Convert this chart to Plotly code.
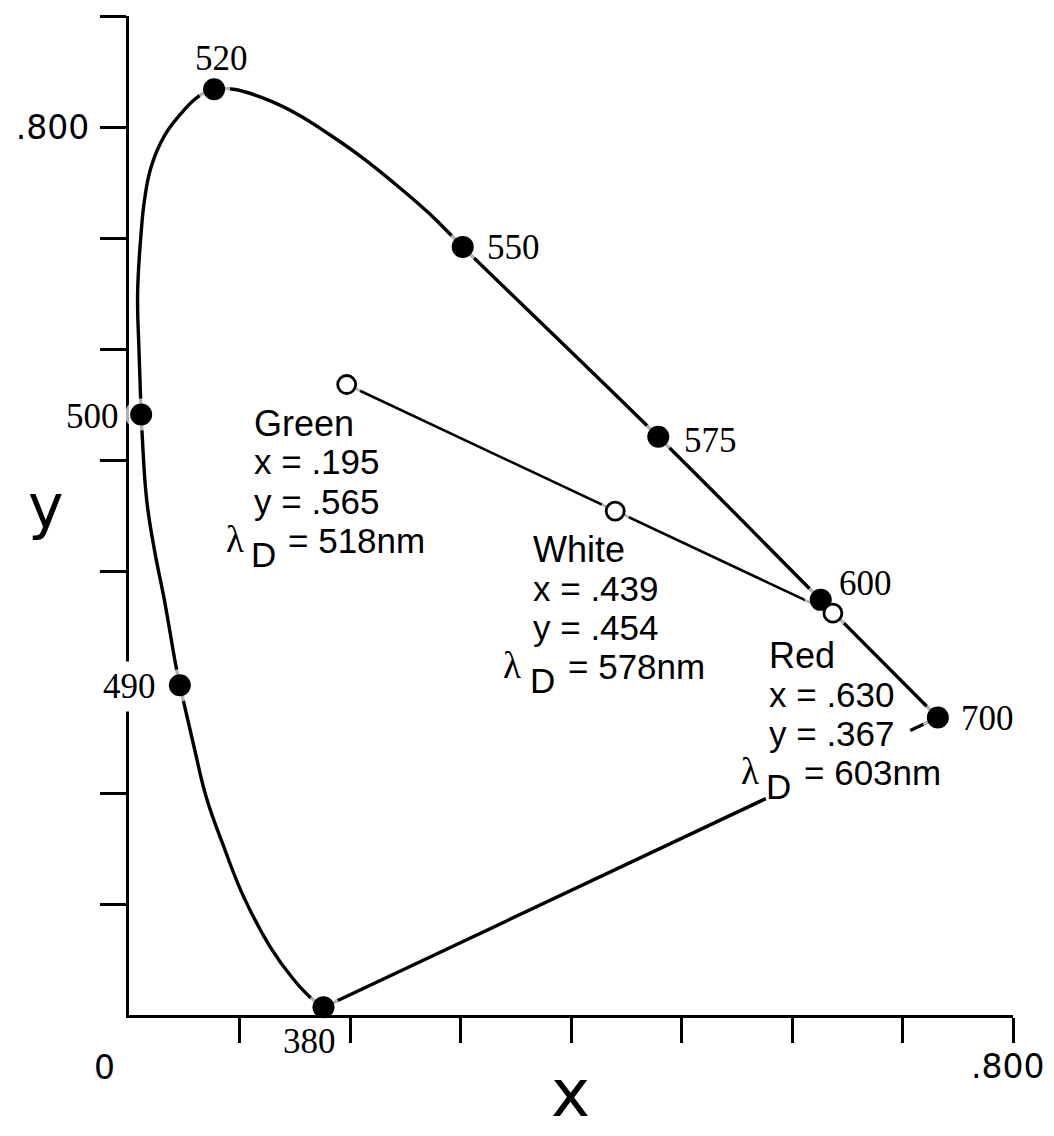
import plotly.graph_objects as go

# ---------------- data ----------------
# spectral locus, from 380 nm round to 700 nm
locus_x = [0.176, 0.164, 0.149, 0.128, 0.104, 0.086, 0.070, 0.059, 0.049, 0.046,
           0.042, 0.032, 0.023, 0.016, 0.012, 0.011, 0.009, 0.0078, 0.011, 0.014,
           0.020, 0.032, 0.047, 0.062, 0.077, 0.0946, 0.1216, 0.1516, 0.1817, 0.2117,
           0.2417, 0.2718, 0.302, 0.479, 0.626, 0.732]
locus_y = [0.007, 0.016, 0.032, 0.061, 0.106, 0.151, 0.196, 0.241, 0.284, 0.297,
           0.317, 0.374, 0.419, 0.464, 0.521, 0.541, 0.600, 0.650, 0.705, 0.734,
           0.764, 0.792, 0.812, 0.827, 0.834, 0.834, 0.826, 0.812, 0.793, 0.772,
           0.748, 0.722, 0.692, 0.521, 0.374, 0.268]

# marked wavelengths on the locus
wl_labels = ["380", "490", "500", "520", "550", "575", "600", "700"]
wl_x = [0.176, 0.046, 0.011, 0.077, 0.302, 0.479, 0.626, 0.732]
wl_y = [0.007, 0.297, 0.541, 0.834, 0.692, 0.521, 0.374, 0.268]

# the three measured colours
sample_names = ["Green", "White", "Red"]
sample_x = [0.197, 0.440, 0.637]
sample_y = [0.568, 0.454, 0.362]
sample_x_text = [".195", ".439", ".630"]
sample_y_text = [".565", ".454", ".367"]
sample_lambda = ["518nm", "578nm", "603nm"]

# axis ticks
x_ticks = [0.1, 0.2, 0.3, 0.4, 0.5, 0.6, 0.7, 0.8]
y_ticks = [0.1, 0.2, 0.3, 0.4, 0.5, 0.6, 0.7, 0.8, 0.9]
y_tick_text = ["", "", "", "", "", "", "", ".800", ""]
x_end_labels = ["0", ".800"]

# ---------------- styling ----------------
W, H = 1054, 1136
BODY = 8                      # default page margin of the html body
SCALE = 1110.0                # pixels per unit
X0, X1, Y0, Y1 = 0.0, 0.8, 0.0, 0.9
LEFT_S, TOP_S = 125, 16       # on-screen position of the plot area corner
PW = int(round((X1 - X0) * SCALE))
PH = int(round((Y1 - Y0) * SCALE))
ML, MT = LEFT_S - BODY, TOP_S - BODY
MR = W - ML - PW
MB = H - MT - PH

SERIF = "Liberation Serif"
SANS = "Liberation Sans"
ROUND = "DejaVu Sans"
BLACK = "black"


def PX(sx):
    return (sx - LEFT_S) / PW


def PY(sy):
    return 1 - (sy - TOP_S) / PH


fig = go.Figure()

# spectral locus
fig.add_trace(go.Scatter(x=locus_x, y=locus_y, mode="lines",
                         line=dict(color=BLACK, width=3.4, shape="spline", smoothing=1.2),
                         hoverinfo="skip", showlegend=False))

# line of purples (380 -> 700), with a break where the Red label sits
i380, i700 = wl_labels.index("380"), wl_labels.index("700")
gap = (0.72, 0.955)
px0, py0, px1, py1 = wl_x[i380], wl_y[i380], wl_x[i700], wl_y[i700]
pur_x = [px0, px0 + gap[0] * (px1 - px0), None, px0 + gap[1] * (px1 - px0), px1]
pur_y = [py0, py0 + gap[0] * (py1 - py0), None, py0 + gap[1] * (py1 - py0), py1]
fig.add_trace(go.Scatter(x=pur_x, y=pur_y, mode="lines",
                         line=dict(color=BLACK, width=3.4),
                         hoverinfo="skip", showlegend=False, connectgaps=False))

# line through the measured colours
fig.add_trace(go.Scatter(x=sample_x, y=sample_y, mode="lines",
                         line=dict(color=BLACK, width=2.6),
                         hoverinfo="skip", showlegend=False))

# white halos round every marker
fig.add_trace(go.Scatter(x=wl_x + sample_x, y=wl_y + sample_y, mode="markers",
                         marker=dict(color="white", size=[32] * len(wl_x) + [30] * len(sample_x),
                                     line=dict(width=0)),
                         cliponaxis=False, hoverinfo="skip", showlegend=False))

# filled wavelength markers
fig.add_trace(go.Scatter(x=wl_x, y=wl_y, mode="markers",
                         marker=dict(color=BLACK, size=22, line=dict(width=0)),
                         cliponaxis=False, hoverinfo="skip", showlegend=False))

# open sample markers
fig.add_trace(go.Scatter(x=sample_x, y=sample_y, mode="markers",
                         marker=dict(color="white", size=18, line=dict(color=BLACK, width=2.8)),
                         cliponaxis=False, hoverinfo="skip", showlegend=False))

annotations = []
LEFT_FIX = 4  # plotly adds a little padding before left-anchored text


def ann(text, sx, sy, family, size, xanchor="left", bg=None, pad=1):
    if xanchor == "left":
        sx -= LEFT_FIX
    elif xanchor == "right":
        sx += LEFT_FIX
    d = dict(text=text, x=PX(sx), y=PY(sy), xref="paper", yref="paper", showarrow=False,
             xanchor=xanchor, yanchor="middle", borderpad=pad,
             font=dict(family=family, size=size, color=BLACK))
    if bg:
        d["bgcolor"] = bg
    annotations.append(d)


# wavelength labels
wl_pos = {
    "380": (306, 1041, "center", None),
    "490": (126, 686, "center", "white"),
    "500": (113, 417, "right", None),
    "520": (218, 58, "center", None),
    "550": (487, 247, "left", None),
    "575": (685, 440, "left", None),
    "600": (840, 583, "left", None),
    "700": (963, 718, "left", None),
}
for lab in wl_labels:
    sx, sy, xa, bg = wl_pos[lab]
    ann(lab, sx, sy, SERIF, 35, xanchor=xa, bg=bg, pad=5 if bg else 1)

# sample label blocks
block_pos = {  # left edge, first-line centre, lambda centre x, D left, "=" left
    "Green": (253, 423, 231, 250, 287),
    "White": (533, 549, 510, 530, 568),
    "Red": (770, 655, 749, 767, 805),
}
LS = 39.0
for i, name in enumerate(sample_names):
    lx, ly, lamx, dx, eqx = block_pos[name]
    ann(name, lx, ly, SANS, 36)
    ann("x = " + sample_x_text[i], lx, ly + LS, SANS, 35)
    ann("y = " + sample_y_text[i], lx, ly + 2 * LS, SANS, 35)
    ann("λ", lamx, ly + 3 * LS - 1, SERIF, 37, xanchor="center")
    ann("D", dx, ly + 3 * LS + 14, SANS, 35)
    ann("= " + sample_lambda[i], eqx, ly + 3 * LS, SANS, 35)

# x-axis end labels
ann(x_end_labels[0], 100, 1067, ROUND, 33, xanchor="center")
ann(x_end_labels[1], 1007, 1066, ROUND, 33, xanchor="center")

# axis titles
ann("x", 568, 1093, ROUND, 66, xanchor="center")
ann("y", 42, 506, ROUND, 60, xanchor="center")

fig.update_layout(
    width=W, height=H,
    margin=dict(l=ML, r=MR, t=MT, b=MB, pad=0),
    paper_bgcolor="white", plot_bgcolor="white",
    showlegend=False,
    annotations=annotations,
    xaxis=dict(range=[X0, X1], showgrid=False, zeroline=False,
               showline=True, linecolor=BLACK, linewidth=3.4,
               ticks="outside", ticklen=25, tickwidth=3.2, tickcolor=BLACK,
               tickvals=x_ticks, showticklabels=False, layer="above traces",
               fixedrange=True),
    yaxis=dict(range=[Y0, Y1], showgrid=False, zeroline=False,
               showline=True, linecolor=BLACK, linewidth=3.4,
               ticks="outside", ticklen=26, tickwidth=3.2, tickcolor=BLACK,
               tickvals=y_ticks, ticktext=y_tick_text, ticklabelstandoff=4,
               tickfont=dict(family=ROUND, size=33, color=BLACK),
               layer="below traces", fixedrange=True),
)

fig.write_html("out.html")
